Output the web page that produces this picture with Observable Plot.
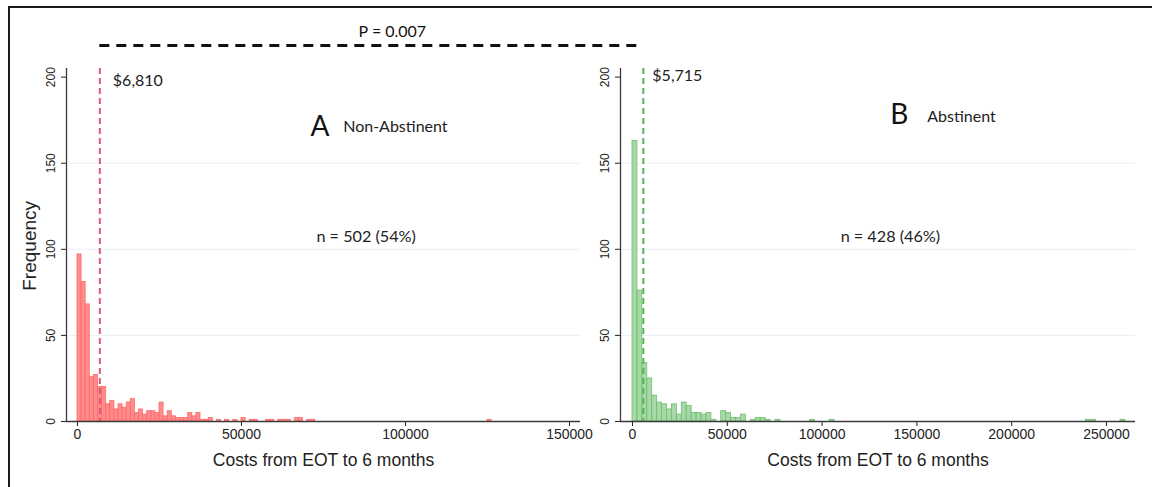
<!DOCTYPE html>
<html><head><meta charset="utf-8">
<script src="https://cdn.jsdelivr.net/npm/d3@7"></script>
<script src="https://cdn.jsdelivr.net/npm/@observablehq/plot@0.6"></script>
<style>
body{margin:0;background:#fff;}
#wrap{position:relative;width:1152px;height:487px;overflow:hidden;background:#fff;}
#frame{position:absolute;left:8px;top:6px;width:1170px;height:500px;border-top:2px solid #1a1a1a;border-left:2px solid #1a1a1a;}
.panel{position:absolute;top:0;}
#overlay{position:absolute;left:0;top:0;pointer-events:none;}
</style></head><body>
<div id="wrap"><div id="frame"></div></div>
<script>
// ---- data ----
const binWidthA = 1250;
const countsA = [97,81,68,26,27,20,20,10,12,7, 10,8,11,13,5,7,4,6,6,5,
                 11,3,6,3,2,2,2,5,3,5, 1,1,2,0,1,0,1,0,1,0,
                 2,0,1,1,0,0,1,1,0,1, 1,1,0,2,2,0,1,1,0,0,
                 0,0,0,0,0,0,0,0,0,0, 0,0,0,0,0,0,0,0,0,0,
                 0,0,0,0,0,0,0,0,0,0, 0,0,0,0,0,0,0,0,0,0, 1];
const binWidthB = 2600;
const countsB = [163,76,34,25,15,11,10,7,10,4, 11,9,5,5,4,5,1,0,6,5,
                 2,2,4,0,1,2,2,1,0,1, 0,0,0,0,0,0,1,0,0,0,
                 1,0,0,0,0,0,0,0,0,0, 0,0,0,0,0,0,0,0,0,0,
                 0,0,0,0,0,0,0,0,0,0, 0,0,0,0,0,0,0,0,0,0,
                 0,0,0,0,0,0,0,0,0,0, 0,0,1,1,0,0,0,0,0,1];
const medianA = 6810, medianB = 5715;
const medianLabelA = "$6,810", medianLabelB = "$5,715";
const groupLetters = ["A", "B"];
const groupNames = ["Non-Abstinent", "Abstinent"];
const nLabels = ["n = 502 (54%)", "n = 428 (46%)"];
const pLabel = "P = 0.007";
const yTicks = [0, 50, 100, 150, 200];
const gridTicks = [50, 100, 150];
const xTicksA = [0, 50000, 100000, 150000];
const xTicksB = [0, 50000, 100000, 150000, 200000, 250000];
const xTitle = "Costs from EOT to 6 months";
const yTitle = "Frequency";

const ANN = "Lato, 'Open Sans', sans-serif";
const AX = "'Liberation Sans', Arial, sans-serif";

function toBins(counts, w) {
  return counts.map((c, i) => ({x1: i * w, x2: (i + 1) * w, count: c})).filter(d => d.count > 0);
}

function panel(cfg) {
  const marks = [
    Plot.ruleY(gridTicks, {stroke: "#e8f0f4", strokeWidth: 1}),
    Plot.rectY(toBins(cfg.counts, cfg.bw), {x1: "x1", x2: "x2", y: "count", fill: cfg.fill, stroke: cfg.stroke, strokeWidth: 0.8, inset: 0}),
    Plot.ruleX([cfg.median], {stroke: cfg.dash, strokeWidth: 2, strokeDasharray: "6,4"}),
    Plot.ruleX([cfg.domain[0]], {stroke: "#3a3a3a", strokeWidth: 1.3}),
    Plot.ruleY([0], {stroke: "#3a3a3a", strokeWidth: 1.3}),
    Plot.text(yTicks, {y: d => d, text: d => String(d), frameAnchor: "left", textAnchor: "middle", dx: cfg.yLabDx, rotate: -90, fontSize: 12, fontFamily: AX, fill: "#222"}),
    Plot.text([cfg.medianLabel], {x: cfg.median, y: cfg.medianY, dx: cfg.medianDx, text: d => d, textAnchor: "start", fontSize: 16, fontFamily: ANN, fill: "#222"}),
    Plot.text([cfg.letter], {x: cfg.letterX, y: cfg.letterY, text: d => d, textAnchor: "start", fontSize: 28, fontFamily: ANN, fill: "#111"}),
    Plot.text([cfg.name], {x: cfg.nameX, y: cfg.nameY, text: d => d, textAnchor: "start", fontSize: 16, fontFamily: ANN, fill: "#222"}),
    Plot.text([cfg.nLabel], {x: cfg.nX, y: 107, text: d => d, fontSize: 16.2, fontFamily: ANN, fill: "#222"}),
    Plot.text([xTitle], {frameAnchor: "bottom", dy: 44, text: d => d, fontSize: 17.5, fontFamily: AX, fill: "#222"})
  ];
  if (cfg.extra) marks.push(...cfg.extra);
  return Plot.plot({
    width: cfg.width, height: 487,
    marginLeft: cfg.ml, marginRight: cfg.mr, marginTop: 68, marginBottom: 66,
    style: {fontFamily: AX, fontSize: "14px", background: "transparent", overflow: "visible", color: "#222"},
    x: {domain: cfg.domain, ticks: cfg.xTicks, tickFormat: d3.format("d"), tickSize: 5, tickPadding: 3, label: null},
    y: {domain: [0, 205], ticks: yTicks, tickSize: 5, tickFormat: () => "", label: null},
    marks
  });
}

const left = panel({
  width: 590, ml: 66, mr: 10, domain: [-3350, 153350], xTicks: xTicksA,
  counts: countsA, bw: binWidthA, fill: "rgba(255,120,120,0.85)", stroke: "#ff6a6a", dash: "#d9577a",
  median: medianA, medianLabel: medianLabelA, medianY: 198, medianDx: 13, yLabDx: -15,
  letter: groupLetters[0], letterX: 71000, letterY: 171, name: groupNames[0], nameX: 81000, nameY: 171,
  nLabel: nLabels[0], nX: 88000,
  extra: [
    Plot.text([yTitle], {frameAnchor: "left", textAnchor: "middle", y: 102, dx: -37, rotate: -90, text: d => d, fontSize: 19, fontFamily: AX, fill: "#222"}),
    Plot.text([pLabel], {x: 96000, y: 226, text: d => d, fontSize: 16, fontFamily: ANN, fill: "#111"})
  ]
});
const right = panel({
  width: 592, ml: 60, mr: 17, domain: [-6330, 265300], xTicks: xTicksB,
  counts: countsB, bw: binWidthB, fill: "rgba(150,210,150,0.85)", stroke: "#74bb74", dash: "#55b455",
  median: medianB, medianLabel: medianLabelB, medianY: 201, medianDx: 9, yLabDx: -15,
  letter: groupLetters[1], letterX: 136000, letterY: 178, name: groupNames[1], nameX: 155500, nameY: 177,
  nLabel: nLabels[1], nX: 136000
});

const wrap = document.getElementById("wrap");
left.classList.add("panel"); left.style.left = "0px";
right.classList.add("panel"); right.style.left = "560px";
wrap.appendChild(left);
wrap.appendChild(right);

// dashed comparison line joining the two medians
const lx = left.scale("x").apply(medianA);
const rx = 560 + right.scale("x").apply(medianB);
const py = left.scale("y").apply(218);
const ov = d3.select(wrap).append("svg").attr("id", "overlay").attr("width", 1152).attr("height", 487);
ov.append("line").attr("x1", lx).attr("x2", rx).attr("y1", py).attr("y2", py)
  .attr("stroke", "#111").attr("stroke-width", 3).attr("stroke-dasharray", "10,7");
</script>
</body></html>
